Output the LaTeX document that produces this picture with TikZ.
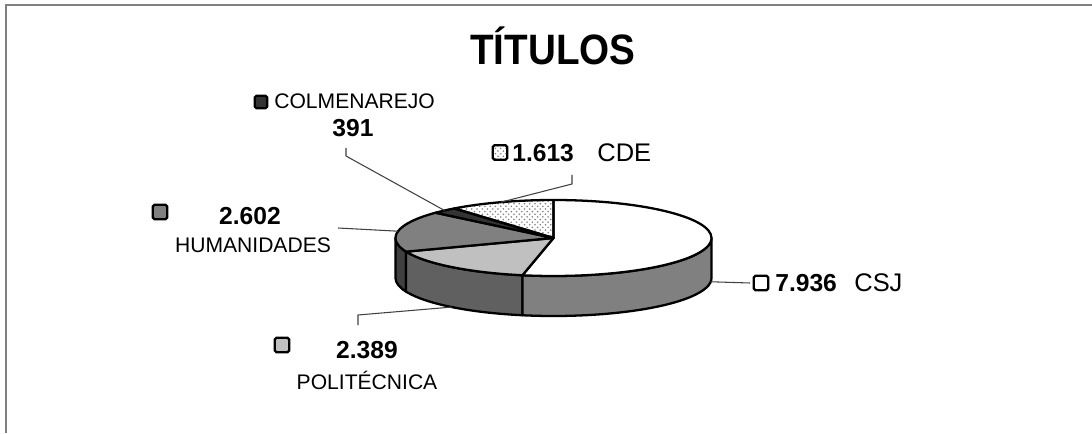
\documentclass[tikz,border=0pt]{standalone}
\usepackage{fontspec}
\setmainfont{Liberation Sans}
\usetikzlibrary{calc,patterns}
\definecolor{grisA}{HTML}{C0C0C0}
\definecolor{grisB}{HTML}{808080}
\definecolor{grisC}{HTML}{606060}
\definecolor{grisD}{HTML}{404040}
\definecolor{grisE}{HTML}{333333}
\begin{document}
\begin{tikzpicture}[x=0.02cm,y=0.02cm,
  borde/.style={line width=1.3pt, line join=round},
  guia/.style={line width=0.6pt, draw=grisD},
  caja/.style={draw, line width=1.3pt, rounded corners=1pt, minimum size=0.29cm, inner sep=0pt},
  cifra/.style={font=\bfseries\fontsize{14}{16}\selectfont, inner sep=0pt},
  rotulo/.style={font=\fontsize{12}{14}\selectfont, inner sep=0pt},
  grande/.style={font=\fontsize{14.5}{17}\selectfont, inner sep=0pt}]
\useasboundingbox (0,0) rectangle (1092,433);
\draw[grisB, line width=1.2pt] (6,0) -- (6,428) -- (1092,428);
\node[font=\bfseries\fontsize{22}{26}\selectfont, yscale=1.1] (titulo) at (553,387) {TÍTULOS};
%----------------lados----------
\coordinate (c) at (553.5,195);
\foreach \a/\b/\col in {-180/-158.94/grisD, -158.94/-101.34/grisC, -101.34/0/grisB}
  \filldraw[borde, fill=\col] ($(c)+(\a:158 and 38)$) arc[start angle=\a, end angle=\b, x radius=158, y radius=38]
    -- ++(0,-40) arc[start angle=\b, end angle=\a, x radius=158, y radius=38] -- cycle;
%----------------tapa----------
\foreach \a/\b/\col in {90/-101.34/white, -101.34/-158.94/grisA, -158.94/-221.68/grisB, -221.68/-231.11/grisE}
  \filldraw[borde, fill=\col] (c) -- ($(c)+(\a:158 and 38)$) arc[start angle=\a, end angle=\b, x radius=158, y radius=38] -- cycle;
\filldraw[borde, pattern=crosshatch dots, pattern color=grisB] (c) -- ($(c)+(-231.11:158 and 38)$)
  arc[start angle=-231.11, end angle=-270, x radius=158, y radius=38] -- cycle;
%----------------leyendas----------
\node[caja, fill=grisE, minimum size=0.25cm] (kcolm) at (261,331) {};
\node[rotulo, anchor=west] (tcolm) at (274,332) {COLMENAREJO};
\node[cifra] (ncolm) at (353,305) {391};
\node[caja, pattern=crosshatch dots, pattern color=grisB] (kcde) at (500,280.5) {};
\node[cifra, anchor=west] (ncde) at (512,280) {1.613};
\node[grande, anchor=west] (tcde) at (597,280) {CDE};
\node[caja, fill=grisB] (khum) at (160,221) {};
\node[cifra] (nhum) at (250,217) {2.602};
\node[rotulo] (thum) at (253,188) {HUMANIDADES};
\node[caja, fill=grisA] (kpol) at (282,88) {};
\node[cifra] (npol) at (367,83) {2.389};
\node[rotulo] (tpol) at (367,53) {POLITÉCNICA};
\node[caja, fill=white] (kcsj) at (761,150) {};
\node[cifra, anchor=west] (ncsj) at (775,150) {7.936};
\node[grande, anchor=west] (tcsj) at (854,150) {CSJ};
%----------------guias----------
\coordinate (lcolm) at (346,285);
\coordinate (pcolm) at ($(c)+(133.6:158 and 38)$);
\coordinate (lcde) at (572,258);
\coordinate (pcde) at ($(c)+(109.4:158 and 38)$);
\coordinate (lhum) at (338,205);
\coordinate (phum) at ($(c)+(169.7:158 and 38)$);
\coordinate (lpol) at (358,108);
\coordinate (ppol) at ($(c)+(-130.1:158 and 38)+(0,-40)$);
\coordinate (lcsj) at (750,150);
\coordinate (pcsj) at ($(c)+(-5.7:158 and 38)+(0,-40)$);
\draw[guia] (lcolm) -- ++(0,-8) -- (pcolm);
\draw[guia] (lcde) -- ++(0,-9) -- (pcde);
\draw[guia] (lhum) -- (phum);
\draw[guia] (lpol) -- ++(0,10) -- (ppol);
\draw[guia] (lcsj) -- (pcsj);
\end{tikzpicture}
\end{document}
